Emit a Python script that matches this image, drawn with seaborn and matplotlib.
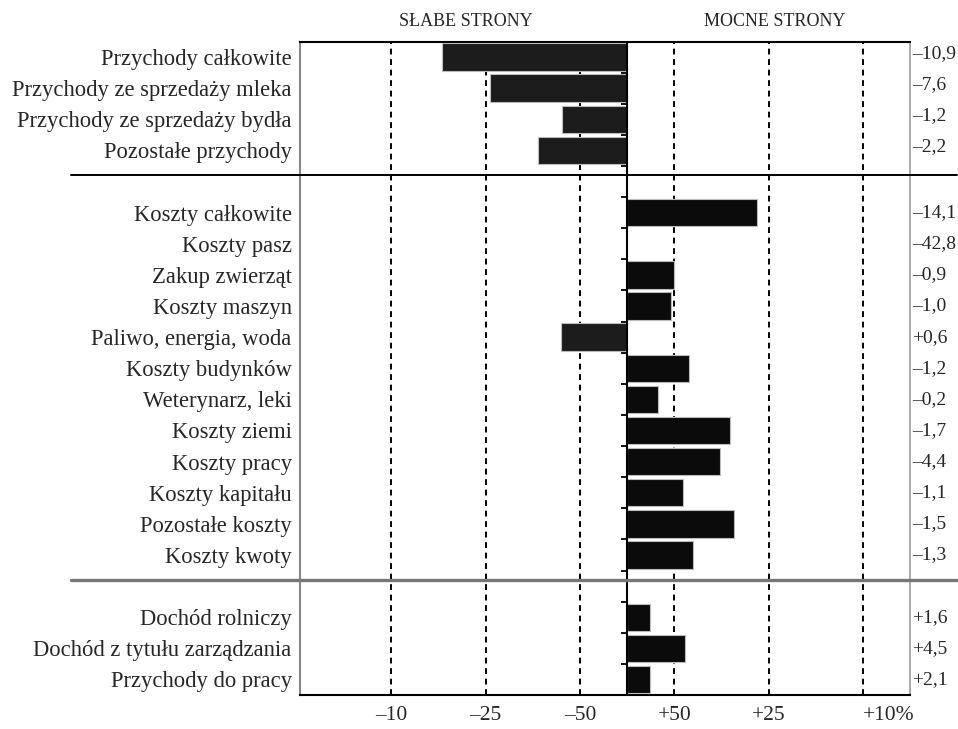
import matplotlib
matplotlib.use('Agg')
import matplotlib.pyplot as plt
import matplotlib.transforms as mtransforms
import seaborn as sns
import numpy as np
import pandas as pd

# ============================================================
# Dane (wartosci w jednostkach osi: 0 = srodek, ticki co 1)
# ============================================================
kategorie = ['Przychody całkowite', 'Przychody ze sprzedaży mleka',
             'Przychody ze sprzedaży bydła', 'Pozostałe przychody',
             'Koszty całkowite', 'Koszty pasz', 'Zakup zwierząt', 'Koszty maszyn',
             'Paliwo, energia, woda', 'Koszty budynków', 'Weterynarz, leki',
             'Koszty ziemi', 'Koszty pracy', 'Koszty kapitału', 'Pozostałe koszty',
             'Koszty kwoty',
             'Dochód rolniczy', 'Dochód z tytułu zarządzania', 'Przychody do pracy']
pozycje = [0, 1, 2, 3,
           5, 6, 7, 8, 9, 10, 11, 12, 13, 14, 15, 16,
           18, 19, 20]
wartosci = [-1.96, -1.46, -0.69, -0.95,
            1.38, 0.0, 0.50, 0.46, -0.70, 0.66, 0.33, 1.09, 0.99, 0.59, 1.13, 0.70,
            0.24, 0.61, 0.24]
zmiany = ['–10,9', '–7,6', '–1,2', '–2,2',
          '–14,1', '–42,8', '–0,9', '–1,0', '+0,6', '–1,2', '–0,2', '–1,7', '–4,4',
          '–1,1', '–1,5', '–1,3',
          '+1,6', '+4,5', '+2,1']
tick_poz = [-2.5, -1.5, -0.5, 0.5, 1.5, 2.5]
tick_lab = ['–10', '–25', '–50', '+50', '+25', '+10%']

df = pd.DataFrame({'kategoria': kategorie, 'y': pozycje, 'x': wartosci})
df['znak'] = np.where(df['x'] < 0, 'neg', 'pos')

# ============================================================
# Wykres
# ============================================================
sns.set_style('white')
plt.rcParams['font.family'] = ['Liberation Serif', 'DejaVu Serif']

fig = plt.figure(figsize=(9.58, 7.29), dpi=100)
ax = fig.add_axes([300 / 958, 1 - 695 / 729, 610 / 958, (695 - 41.5) / 729])

sns.barplot(data=df, x='x', y='y', hue='znak', orient='y', native_scale=True,
            palette={'neg': '#1c1c1c', 'pos': '#0b0b0b'}, dodge=False,
            width=0.88, edgecolor='#bbbbbb', linewidth=0.8, legend=False, ax=ax,
            zorder=3)

ax.set_xlim(-3.47, 3.0)
ax.set_ylim(20.5, -0.5)

# linie siatki
for xp in tick_poz:
    ax.axvline(xp, color='black', lw=1.4, ls=(0, (3, 2.4)), zorder=1)
ax.axvline(0, color='black', lw=1.5, zorder=4)

# male kreski na osi srodkowej
granice = sorted(set([p - 0.5 for p in pozycje] + [p + 0.5 for p in pozycje]))
ax.hlines(granice, -0.06, 0, color='black', lw=1.3, zorder=4)

# separatory grup
ax.axhline(3.78, xmin=-0.375, xmax=1.077, color='black', lw=1.4, clip_on=False, zorder=5)
ax.axhline(16.82, xmin=-0.375, xmax=1.077, color='#777777', lw=2.4, clip_on=False, zorder=5)

ax.set_yticks(pozycje)
ax.set_yticklabels(kategorie, fontsize=16.3)
ax.set_xticks(tick_poz)
ax.set_xticklabels(tick_lab, fontsize=15.5)
ax.tick_params(axis='both', length=0)
ax.tick_params(axis='y', pad=6)
ax.tick_params(axis='x', pad=8)
# "+10%" zaczyna sie przy linii
ax.get_xticklabels()[-1].set_horizontalalignment('left')
ax.set_xlabel('')
ax.set_ylabel('')

for side, col, lw in [('top', 'black', 1.5), ('bottom', 'black', 1.5),
                      ('left', '#888888', 1.5), ('right', '#999999', 1.2)]:
    ax.spines[side].set_visible(True)
    ax.spines[side].set_color(col)
    ax.spines[side].set_linewidth(lw)

# wartosci po prawej
trans = mtransforms.blended_transform_factory(ax.transAxes, ax.transData)
for p, z in zip(pozycje, zmiany):
    dy = -0.12 if p < 4 else 0.0
    ax.text(1.004, p + dy, z, transform=trans, ha='left', va='center', fontsize=14)

fig.text(466 / 958, 1 - 22 / 729, 'SŁABE STRONY', ha='center', va='center', fontsize=13)
fig.text(775 / 958, 1 - 22 / 729, 'MOCNE STRONY', ha='center', va='center', fontsize=13)

plt.savefig('out.png', dpi=100)
plt.close()
